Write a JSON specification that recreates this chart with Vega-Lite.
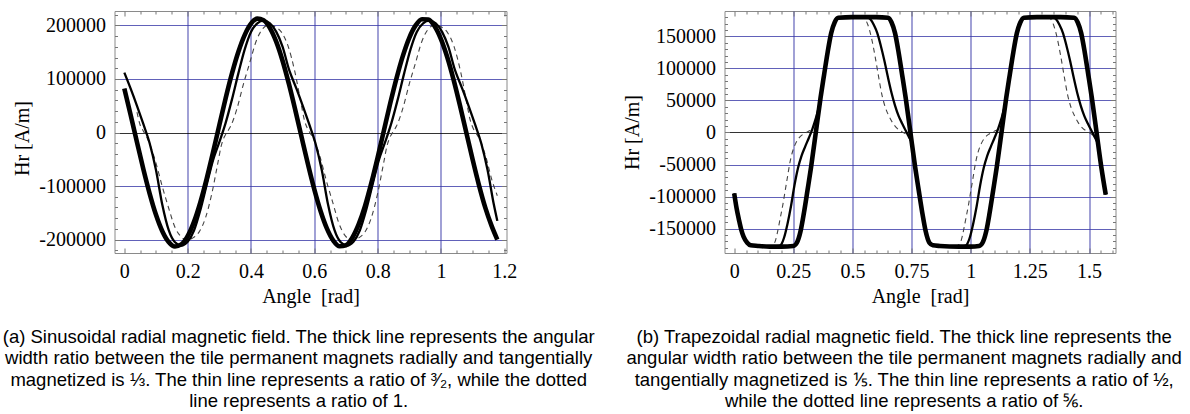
{
  "$schema": "https://vega.github.io/schema/vega-lite/v6.json",
  "padding": {"left": 1.5, "top": 10, "right": 0, "bottom": 0},
  "autosize": {"type": "pad"},
  "background": "white",
  "bounds": "flush",
  "spacing": 218,
  "config": {
    "view": {"stroke": "#8a8a8a", "strokeWidth": 1},
    "axis": {
      "labelFont": "Liberation Serif", "labelFontSize": 20, "labelColor": "#000000",
      "titleFont": "Liberation Serif", "titleFontSize": 20, "titleFontWeight": "normal", "titleColor": "#000000",
      "tickColor": "#777777", "domain": false, "labelFlush": false, "labelOverlap": false, "labelBound": false
    },
    "title": {"font": "Liberation Sans", "fontSize": 18.5, "fontWeight": "normal", "color": "#000000", "lineHeight": 21.3}
  },
  "datasets": {
    "sin": [
      {"curve":"dotted","angle":0.04,"hr":38000},{"curve":"dotted","angle":0.05,"hr":14000},{"curve":"dotted","angle":0.06,"hr":3000},{"curve":"dotted","angle":0.07,"hr":-7500},{"curve":"dotted","angle":0.08,"hr":-21000},{"curve":"dotted","angle":0.1,"hr":-57000},{"curve":"dotted","angle":0.12,"hr":-101000},{"curve":"dotted","angle":0.14,"hr":-141000},{"curve":"dotted","angle":0.16,"hr":-177000},{"curve":"dotted","angle":0.18,"hr":-195000},{"curve":"dotted","angle":0.196,"hr":-201000},{"curve":"dotted","angle":0.216,"hr":-197000},{"curve":"dotted","angle":0.236,"hr":-186000},{"curve":"dotted","angle":0.256,"hr":-160000},{"curve":"dotted","angle":0.276,"hr":-115000},{"curve":"dotted","angle":0.296,"hr":-55000},{"curve":"dotted","angle":0.306,"hr":-25000},{"curve":"dotted","angle":0.316,"hr":-8000},{"curve":"dotted","angle":0.326,"hr":2000},{"curve":"dotted","angle":0.336,"hr":12000},{"curve":"dotted","angle":0.356,"hr":45000},{"curve":"dotted","angle":0.376,"hr":90000},{"curve":"dotted","angle":0.396,"hr":130000},{"curve":"dotted","angle":0.416,"hr":170000},{"curve":"dotted","angle":0.436,"hr":193000},{"curve":"dotted","angle":0.458,"hr":201000},{"curve":"dotted","angle":0.478,"hr":197000},{"curve":"dotted","angle":0.498,"hr":186000},{"curve":"dotted","angle":0.518,"hr":160000},{"curve":"dotted","angle":0.538,"hr":115000},{"curve":"dotted","angle":0.558,"hr":55000},{"curve":"dotted","angle":0.568,"hr":25000},{"curve":"dotted","angle":0.578,"hr":8000},{"curve":"dotted","angle":0.588,"hr":-2000},{"curve":"dotted","angle":0.598,"hr":-12000},{"curve":"dotted","angle":0.618,"hr":-45000},{"curve":"dotted","angle":0.638,"hr":-90000},{"curve":"dotted","angle":0.658,"hr":-130000},{"curve":"dotted","angle":0.678,"hr":-170000},{"curve":"dotted","angle":0.698,"hr":-193000},{"curve":"dotted","angle":0.7196,"hr":-201000},{"curve":"dotted","angle":0.7396,"hr":-197000},{"curve":"dotted","angle":0.7596,"hr":-186000},{"curve":"dotted","angle":0.7796,"hr":-160000},{"curve":"dotted","angle":0.7996,"hr":-115000},{"curve":"dotted","angle":0.8196,"hr":-55000},{"curve":"dotted","angle":0.8296,"hr":-25000},{"curve":"dotted","angle":0.8396,"hr":-8000},{"curve":"dotted","angle":0.8496,"hr":2000},{"curve":"dotted","angle":0.8596,"hr":12000},{"curve":"dotted","angle":0.8796,"hr":45000},{"curve":"dotted","angle":0.8996,"hr":90000},{"curve":"dotted","angle":0.9196,"hr":130000},{"curve":"dotted","angle":0.9396,"hr":170000},{"curve":"dotted","angle":0.9596,"hr":193000},{"curve":"dotted","angle":0.9816,"hr":201000},{"curve":"dotted","angle":1.0016,"hr":197000},{"curve":"dotted","angle":1.0216,"hr":186000},{"curve":"dotted","angle":1.0416,"hr":160000},{"curve":"dotted","angle":1.0616,"hr":115000},{"curve":"dotted","angle":1.0816,"hr":55000},{"curve":"dotted","angle":1.0916,"hr":25000},{"curve":"dotted","angle":1.1016,"hr":8000},{"curve":"dotted","angle":1.1116,"hr":-2000},{"curve":"dotted","angle":1.1216,"hr":-12000},{"curve":"dotted","angle":1.1416,"hr":-45000},{"curve":"dotted","angle":1.1616,"hr":-90000},{"curve":"dotted","angle":1.178,"hr":-118000},
      {"curve":"thin","angle":0,"hr":112000},{"curve":"thin","angle":0.02,"hr":82000},{"curve":"thin","angle":0.04,"hr":50000},{"curve":"thin","angle":0.06,"hr":16000},{"curve":"thin","angle":0.08,"hr":-20000},{"curve":"thin","angle":0.1,"hr":-70000},{"curve":"thin","angle":0.12,"hr":-135000},{"curve":"thin","angle":0.14,"hr":-182000},{"curve":"thin","angle":0.16,"hr":-205000},{"curve":"thin","angle":0.18,"hr":-211000},{"curve":"thin","angle":0.2,"hr":-204000},{"curve":"thin","angle":0.22,"hr":-183000},{"curve":"thin","angle":0.24,"hr":-145000},{"curve":"thin","angle":0.26,"hr":-98000},{"curve":"thin","angle":0.28,"hr":-52000},{"curve":"thin","angle":0.3,"hr":-18000},{"curve":"thin","angle":0.32,"hr":18000},{"curve":"thin","angle":0.34,"hr":62000},{"curve":"thin","angle":0.36,"hr":110000},{"curve":"thin","angle":0.38,"hr":155000},{"curve":"thin","angle":0.4,"hr":188000},{"curve":"thin","angle":0.42,"hr":204000},{"curve":"thin","angle":0.44,"hr":209000},{"curve":"thin","angle":0.46,"hr":204000},{"curve":"thin","angle":0.48,"hr":188000},{"curve":"thin","angle":0.5,"hr":160000},{"curve":"thin","angle":0.52,"hr":118000},
      {"curve":"thin","angle":0.5236,"hr":112000},{"curve":"thin","angle":0.5436,"hr":82000},{"curve":"thin","angle":0.5636,"hr":50000},{"curve":"thin","angle":0.5836,"hr":16000},{"curve":"thin","angle":0.6036,"hr":-20000},{"curve":"thin","angle":0.6236,"hr":-70000},{"curve":"thin","angle":0.6436,"hr":-135000},{"curve":"thin","angle":0.6636,"hr":-182000},{"curve":"thin","angle":0.6836,"hr":-205000},{"curve":"thin","angle":0.7036,"hr":-211000},{"curve":"thin","angle":0.7236,"hr":-204000},{"curve":"thin","angle":0.7436,"hr":-183000},{"curve":"thin","angle":0.7636,"hr":-145000},{"curve":"thin","angle":0.7836,"hr":-98000},{"curve":"thin","angle":0.8036,"hr":-52000},{"curve":"thin","angle":0.8236,"hr":-18000},{"curve":"thin","angle":0.8436,"hr":18000},{"curve":"thin","angle":0.8636,"hr":62000},{"curve":"thin","angle":0.8836,"hr":110000},{"curve":"thin","angle":0.9036,"hr":155000},{"curve":"thin","angle":0.9236,"hr":188000},{"curve":"thin","angle":0.9436,"hr":204000},{"curve":"thin","angle":0.9636,"hr":209000},{"curve":"thin","angle":0.9836,"hr":204000},{"curve":"thin","angle":1.0036,"hr":188000},{"curve":"thin","angle":1.0236,"hr":160000},{"curve":"thin","angle":1.0436,"hr":118000},
      {"curve":"thin","angle":1.0472,"hr":112000},{"curve":"thin","angle":1.0672,"hr":82000},{"curve":"thin","angle":1.0872,"hr":50000},{"curve":"thin","angle":1.1072,"hr":16000},{"curve":"thin","angle":1.1272,"hr":-20000},{"curve":"thin","angle":1.1472,"hr":-70000},{"curve":"thin","angle":1.1672,"hr":-135000},{"curve":"thin","angle":1.178,"hr":-165000},
      {"curve":"thick","angle":0,"hr":82200},{"curve":"thick","angle":0.02,"hr":32900},{"curve":"thick","angle":0.04,"hr":-18100},{"curve":"thick","angle":0.06,"hr":-68100},{"curve":"thick","angle":0.08,"hr":-114000},{"curve":"thick","angle":0.1,"hr":-153700},{"curve":"thick","angle":0.12,"hr":-184300},{"curve":"thick","angle":0.14,"hr":-204500},{"curve":"thick","angle":0.16,"hr":-212800},{"curve":"thick","angle":0.18,"hr":-209000},{"curve":"thick","angle":0.2,"hr":-193500},{"curve":"thick","angle":0.22,"hr":-166700},{"curve":"thick","angle":0.24,"hr":-130300},{"curve":"thick","angle":0.26,"hr":-86300},{"curve":"thick","angle":0.28,"hr":-37400},{"curve":"thick","angle":0.3,"hr":13500},{"curve":"thick","angle":0.32,"hr":63900},{"curve":"thick","angle":0.34,"hr":110300},{"curve":"thick","angle":0.36,"hr":150400},{"curve":"thick","angle":0.38,"hr":182000},{"curve":"thick","angle":0.4,"hr":203300},{"curve":"thick","angle":0.42,"hr":212700},{"curve":"thick","angle":0.44,"hr":209700},{"curve":"thick","angle":0.46,"hr":195100},{"curve":"thick","angle":0.48,"hr":169200},{"curve":"thick","angle":0.5,"hr":133600},{"curve":"thick","angle":0.52,"hr":90300},{"curve":"thick","angle":0.54,"hr":41900},{"curve":"thick","angle":0.56,"hr":-9000},{"curve":"thick","angle":0.58,"hr":-59300},{"curve":"thick","angle":0.6,"hr":-106200},{"curve":"thick","angle":0.62,"hr":-147100},{"curve":"thick","angle":0.64,"hr":-179600},{"curve":"thick","angle":0.66,"hr":-201900},{"curve":"thick","angle":0.68,"hr":-212400},{"curve":"thick","angle":0.7,"hr":-210500},{"curve":"thick","angle":0.72,"hr":-196500},{"curve":"thick","angle":0.74,"hr":-171700},{"curve":"thick","angle":0.76,"hr":-137600},{"curve":"thick","angle":0.78,"hr":-94600},{"curve":"thick","angle":0.8,"hr":-46500},{"curve":"thick","angle":0.82,"hr":4400},{"curve":"thick","angle":0.84,"hr":55000},{"curve":"thick","angle":0.86,"hr":102200},{"curve":"thick","angle":0.88,"hr":143700},{"curve":"thick","angle":0.9,"hr":177000},{"curve":"thick","angle":0.92,"hr":200100},{"curve":"thick","angle":0.94,"hr":211700},{"curve":"thick","angle":0.96,"hr":211200},{"curve":"thick","angle":0.98,"hr":198600},{"curve":"thick","angle":1.0,"hr":174600},{"curve":"thick","angle":1.02,"hr":140600},{"curve":"thick","angle":1.04,"hr":98500},{"curve":"thick","angle":1.06,"hr":50800},{"curve":"thick","angle":1.08,"hr":200},{"curve":"thick","angle":1.1,"hr":-50500},{"curve":"thick","angle":1.12,"hr":-98200},{"curve":"thick","angle":1.14,"hr":-140300},{"curve":"thick","angle":1.16,"hr":-174400},{"curve":"thick","angle":1.178,"hr":-200000}
    ],
    "trap": [
      {"curve":"dotted","angle":0,"hr":-95000},{"curve":"dotted","angle":0.01,"hr":-118000},{"curve":"dotted","angle":0.02,"hr":-136000},{"curve":"dotted","angle":0.03,"hr":-152000},{"curve":"dotted","angle":0.04,"hr":-163000},{"curve":"dotted","angle":0.055,"hr":-172000},{"curve":"dotted","angle":0.07,"hr":-176000},{"curve":"dotted","angle":0.1,"hr":-177000},{"curve":"dotted","angle":0.15,"hr":-177000},{"curve":"dotted","angle":0.165,"hr":-175000},{"curve":"dotted","angle":0.175,"hr":-168000},{"curve":"dotted","angle":0.185,"hr":-152000},{"curve":"dotted","angle":0.195,"hr":-133000},{"curve":"dotted","angle":0.205,"hr":-114000},{"curve":"dotted","angle":0.215,"hr":-92000},{"curve":"dotted","angle":0.225,"hr":-70000},{"curve":"dotted","angle":0.235,"hr":-48000},{"curve":"dotted","angle":0.245,"hr":-32000},{"curve":"dotted","angle":0.26,"hr":-17000},{"curve":"dotted","angle":0.275,"hr":-8000},{"curve":"dotted","angle":0.29,"hr":-3000},{"curve":"dotted","angle":0.305,"hr":0},{"curve":"dotted","angle":0.32,"hr":3000},{"curve":"dotted","angle":0.33,"hr":5000},{"curve":"dotted","angle":0.345,"hr":22000},{"curve":"dotted","angle":0.358,"hr":40000},{"curve":"dotted","angle":0.365,"hr":54000},{"curve":"dotted","angle":0.38,"hr":90000},{"curve":"dotted","angle":0.395,"hr":125000},{"curve":"dotted","angle":0.41,"hr":155000},{"curve":"dotted","angle":0.425,"hr":172000},{"curve":"dotted","angle":0.44,"hr":179000},{"curve":"dotted","angle":0.5,"hr":180000},{"curve":"dotted","angle":0.535,"hr":180000},{"curve":"dotted","angle":0.55,"hr":178000},{"curve":"dotted","angle":0.565,"hr":168000},{"curve":"dotted","angle":0.58,"hr":148000},{"curve":"dotted","angle":0.595,"hr":120000},{"curve":"dotted","angle":0.61,"hr":88000},{"curve":"dotted","angle":0.625,"hr":58000},{"curve":"dotted","angle":0.64,"hr":38000},{"curve":"dotted","angle":0.655,"hr":25000},{"curve":"dotted","angle":0.67,"hr":15000},{"curve":"dotted","angle":0.69,"hr":6000},{"curve":"dotted","angle":0.71,"hr":1000},{"curve":"dotted","angle":0.73,"hr":-4000},{"curve":"dotted","angle":0.745,"hr":-12000},{"curve":"dotted","angle":0.752,"hr":-18000},{"curve":"dotted","angle":0.765,"hr":-54000},{"curve":"dotted","angle":0.78,"hr":-90000},{"curve":"dotted","angle":0.795,"hr":-125000},{"curve":"dotted","angle":0.81,"hr":-155000},{"curve":"dotted","angle":0.825,"hr":-172000},{"curve":"dotted","angle":0.84,"hr":-176000},{"curve":"dotted","angle":0.87,"hr":-177000},{"curve":"dotted","angle":0.935,"hr":-177000},{"curve":"dotted","angle":0.95,"hr":-175000},{"curve":"dotted","angle":0.96,"hr":-168000},{"curve":"dotted","angle":0.97,"hr":-152000},{"curve":"dotted","angle":0.98,"hr":-133000},{"curve":"dotted","angle":0.99,"hr":-114000},{"curve":"dotted","angle":1.0,"hr":-92000},{"curve":"dotted","angle":1.01,"hr":-70000},{"curve":"dotted","angle":1.02,"hr":-48000},{"curve":"dotted","angle":1.03,"hr":-32000},{"curve":"dotted","angle":1.045,"hr":-17000},{"curve":"dotted","angle":1.06,"hr":-8000},{"curve":"dotted","angle":1.075,"hr":-3000},{"curve":"dotted","angle":1.09,"hr":0},{"curve":"dotted","angle":1.105,"hr":3000},{"curve":"dotted","angle":1.115,"hr":5000},{"curve":"dotted","angle":1.13,"hr":22000},{"curve":"dotted","angle":1.143,"hr":40000},{"curve":"dotted","angle":1.15,"hr":54000},{"curve":"dotted","angle":1.165,"hr":90000},{"curve":"dotted","angle":1.18,"hr":125000},{"curve":"dotted","angle":1.195,"hr":155000},{"curve":"dotted","angle":1.21,"hr":172000},{"curve":"dotted","angle":1.225,"hr":179000},{"curve":"dotted","angle":1.28,"hr":180000},{"curve":"dotted","angle":1.32,"hr":180000},{"curve":"dotted","angle":1.335,"hr":178000},{"curve":"dotted","angle":1.35,"hr":168000},{"curve":"dotted","angle":1.365,"hr":148000},{"curve":"dotted","angle":1.38,"hr":120000},{"curve":"dotted","angle":1.395,"hr":88000},{"curve":"dotted","angle":1.41,"hr":58000},{"curve":"dotted","angle":1.425,"hr":38000},{"curve":"dotted","angle":1.44,"hr":25000},{"curve":"dotted","angle":1.455,"hr":15000},{"curve":"dotted","angle":1.475,"hr":6000},{"curve":"dotted","angle":1.495,"hr":1000},{"curve":"dotted","angle":1.515,"hr":-4000},{"curve":"dotted","angle":1.53,"hr":-12000},{"curve":"dotted","angle":1.537,"hr":-18000},{"curve":"dotted","angle":1.552,"hr":-54000},{"curve":"dotted","angle":1.5708,"hr":-97000},
      {"curve":"thin","angle":0,"hr":-95000},{"curve":"thin","angle":0.01,"hr":-118000},{"curve":"thin","angle":0.02,"hr":-136000},{"curve":"thin","angle":0.03,"hr":-152000},{"curve":"thin","angle":0.04,"hr":-163000},{"curve":"thin","angle":0.055,"hr":-172000},{"curve":"thin","angle":0.07,"hr":-176000},{"curve":"thin","angle":0.1,"hr":-177000},{"curve":"thin","angle":0.15,"hr":-178000},{"curve":"thin","angle":0.19,"hr":-177000},{"curve":"thin","angle":0.2,"hr":-174000},{"curve":"thin","angle":0.21,"hr":-165000},{"curve":"thin","angle":0.225,"hr":-143000},{"curve":"thin","angle":0.24,"hr":-115000},{"curve":"thin","angle":0.255,"hr":-82000},{"curve":"thin","angle":0.27,"hr":-55000},{"curve":"thin","angle":0.285,"hr":-36000},{"curve":"thin","angle":0.3,"hr":-22000},{"curve":"thin","angle":0.315,"hr":-9000},{"curve":"thin","angle":0.33,"hr":5000},{"curve":"thin","angle":0.345,"hr":22000},{"curve":"thin","angle":0.358,"hr":40000},{"curve":"thin","angle":0.365,"hr":54000},{"curve":"thin","angle":0.38,"hr":90000},{"curve":"thin","angle":0.395,"hr":125000},{"curve":"thin","angle":0.41,"hr":155000},{"curve":"thin","angle":0.425,"hr":172000},{"curve":"thin","angle":0.44,"hr":179000},{"curve":"thin","angle":0.5,"hr":180000},{"curve":"thin","angle":0.56,"hr":180000},{"curve":"thin","angle":0.575,"hr":177000},{"curve":"thin","angle":0.59,"hr":168000},{"curve":"thin","angle":0.605,"hr":155000},{"curve":"thin","angle":0.62,"hr":135000},{"curve":"thin","angle":0.635,"hr":112000},{"curve":"thin","angle":0.65,"hr":86000},{"curve":"thin","angle":0.665,"hr":62000},{"curve":"thin","angle":0.68,"hr":42000},{"curve":"thin","angle":0.695,"hr":26000},{"curve":"thin","angle":0.71,"hr":14000},{"curve":"thin","angle":0.725,"hr":3000},{"curve":"thin","angle":0.74,"hr":-8000},{"curve":"thin","angle":0.752,"hr":-18000},{"curve":"thin","angle":0.765,"hr":-54000},{"curve":"thin","angle":0.78,"hr":-90000},{"curve":"thin","angle":0.795,"hr":-125000},{"curve":"thin","angle":0.81,"hr":-155000},{"curve":"thin","angle":0.825,"hr":-172000},{"curve":"thin","angle":0.84,"hr":-176000},{"curve":"thin","angle":0.87,"hr":-177000},{"curve":"thin","angle":0.95,"hr":-178000},{"curve":"thin","angle":0.975,"hr":-177000},{"curve":"thin","angle":0.985,"hr":-174000},{"curve":"thin","angle":0.995,"hr":-165000},{"curve":"thin","angle":1.01,"hr":-143000},{"curve":"thin","angle":1.025,"hr":-115000},{"curve":"thin","angle":1.04,"hr":-82000},{"curve":"thin","angle":1.055,"hr":-55000},{"curve":"thin","angle":1.07,"hr":-36000},{"curve":"thin","angle":1.085,"hr":-22000},{"curve":"thin","angle":1.1,"hr":-9000},{"curve":"thin","angle":1.115,"hr":5000},{"curve":"thin","angle":1.13,"hr":22000},{"curve":"thin","angle":1.143,"hr":40000},{"curve":"thin","angle":1.15,"hr":54000},{"curve":"thin","angle":1.165,"hr":90000},{"curve":"thin","angle":1.18,"hr":125000},{"curve":"thin","angle":1.195,"hr":155000},{"curve":"thin","angle":1.21,"hr":172000},{"curve":"thin","angle":1.225,"hr":179000},{"curve":"thin","angle":1.28,"hr":180000},{"curve":"thin","angle":1.345,"hr":180000},{"curve":"thin","angle":1.36,"hr":177000},{"curve":"thin","angle":1.375,"hr":168000},{"curve":"thin","angle":1.39,"hr":155000},{"curve":"thin","angle":1.405,"hr":135000},{"curve":"thin","angle":1.42,"hr":112000},{"curve":"thin","angle":1.435,"hr":86000},{"curve":"thin","angle":1.45,"hr":62000},{"curve":"thin","angle":1.465,"hr":42000},{"curve":"thin","angle":1.48,"hr":26000},{"curve":"thin","angle":1.495,"hr":14000},{"curve":"thin","angle":1.51,"hr":3000},{"curve":"thin","angle":1.525,"hr":-8000},{"curve":"thin","angle":1.537,"hr":-18000},{"curve":"thin","angle":1.552,"hr":-54000},{"curve":"thin","angle":1.5708,"hr":-97000},
      {"curve":"thick","angle":0,"hr":-95000},{"curve":"thick","angle":0.01,"hr":-118000},{"curve":"thick","angle":0.02,"hr":-136000},{"curve":"thick","angle":0.03,"hr":-152000},{"curve":"thick","angle":0.04,"hr":-163000},{"curve":"thick","angle":0.055,"hr":-172000},{"curve":"thick","angle":0.07,"hr":-176000},{"curve":"thick","angle":0.1,"hr":-177000},{"curve":"thick","angle":0.15,"hr":-178000},{"curve":"thick","angle":0.2,"hr":-178000},{"curve":"thick","angle":0.25,"hr":-177000},{"curve":"thick","angle":0.265,"hr":-172000},{"curve":"thick","angle":0.28,"hr":-155000},{"curve":"thick","angle":0.295,"hr":-125000},{"curve":"thick","angle":0.31,"hr":-90000},{"curve":"thick","angle":0.325,"hr":-54000},{"curve":"thick","angle":0.345,"hr":0},{"curve":"thick","angle":0.365,"hr":54000},{"curve":"thick","angle":0.38,"hr":90000},{"curve":"thick","angle":0.395,"hr":125000},{"curve":"thick","angle":0.41,"hr":155000},{"curve":"thick","angle":0.425,"hr":172000},{"curve":"thick","angle":0.44,"hr":179000},{"curve":"thick","angle":0.5,"hr":180000},{"curve":"thick","angle":0.55,"hr":180000},{"curve":"thick","angle":0.6,"hr":180000},{"curve":"thick","angle":0.65,"hr":179000},{"curve":"thick","angle":0.665,"hr":172000},{"curve":"thick","angle":0.68,"hr":155000},{"curve":"thick","angle":0.695,"hr":125000},{"curve":"thick","angle":0.71,"hr":90000},{"curve":"thick","angle":0.725,"hr":54000},{"curve":"thick","angle":0.745,"hr":0},{"curve":"thick","angle":0.765,"hr":-54000},{"curve":"thick","angle":0.78,"hr":-90000},{"curve":"thick","angle":0.795,"hr":-125000},{"curve":"thick","angle":0.81,"hr":-155000},{"curve":"thick","angle":0.825,"hr":-172000},{"curve":"thick","angle":0.84,"hr":-176000},{"curve":"thick","angle":0.87,"hr":-177000},{"curve":"thick","angle":0.95,"hr":-178000},{"curve":"thick","angle":1.0,"hr":-178000},{"curve":"thick","angle":1.035,"hr":-177000},{"curve":"thick","angle":1.05,"hr":-172000},{"curve":"thick","angle":1.065,"hr":-155000},{"curve":"thick","angle":1.08,"hr":-125000},{"curve":"thick","angle":1.095,"hr":-90000},{"curve":"thick","angle":1.11,"hr":-54000},{"curve":"thick","angle":1.13,"hr":0},{"curve":"thick","angle":1.15,"hr":54000},{"curve":"thick","angle":1.165,"hr":90000},{"curve":"thick","angle":1.18,"hr":125000},{"curve":"thick","angle":1.195,"hr":155000},{"curve":"thick","angle":1.21,"hr":172000},{"curve":"thick","angle":1.225,"hr":179000},{"curve":"thick","angle":1.28,"hr":180000},{"curve":"thick","angle":1.33,"hr":180000},{"curve":"thick","angle":1.38,"hr":180000},{"curve":"thick","angle":1.437,"hr":179000},{"curve":"thick","angle":1.452,"hr":172000},{"curve":"thick","angle":1.467,"hr":155000},{"curve":"thick","angle":1.482,"hr":125000},{"curve":"thick","angle":1.497,"hr":90000},{"curve":"thick","angle":1.512,"hr":54000},{"curve":"thick","angle":1.532,"hr":0},{"curve":"thick","angle":1.552,"hr":-54000},{"curve":"thick","angle":1.5708,"hr":-97000}
    ]
  },
  "hconcat": [
    {
      "width": 392, "height": 242,
      "data": {"name": "sin"},
      "title": {
        "text": ["(a) Sinusoidal radial magnetic field. The thick line represents the angular", "width ratio between the tile permanent magnets radially and tangentially", "magnetized is ⅓. The thin line represents a ratio of ³⁄₂, while the dotted", "line represents a ratio of 1."],
        "orient": "bottom", "anchor": "middle", "frame": "group", "dx": -11.8, "offset": 22
      },
      "resolve": {"axis": {"x": "independent", "y": "independent"}},
      "layer": [
        {
          "transform": [{"filter": "datum.curve === 'dotted'"}],
          "mark": {"type": "line", "interpolate": "monotone", "color": "#444444", "strokeWidth": 1.1, "strokeDash": [5, 4]},
          "encoding": {
            "x": {"field": "angle", "type": "quantitative", "scale": {"domain": [-0.031, 1.207], "nice": false, "zero": false},
              "axis": {"orient": "bottom", "values": [0, 0.2, 0.4, 0.6, 0.8, 1, 1.2], "labelExpr": "toString(datum.value)", "title": "Angle\u00a0 [rad]", "ticks": false, "grid": true, "gridColor": "#3a3aa8", "gridWidth": 1.2, "gridOpacity": {"condition": {"test": "datum.value === 0 || datum.value > 1.19", "value": 0}, "value": 0.8}, "labelPadding": 8, "titlePadding": 5}},
            "y": {"field": "hr", "type": "quantitative", "scale": {"domain": [-225000, 227000], "nice": false, "zero": false},
              "axis": {"orient": "left", "values": [-200000, -100000, 0, 100000, 200000], "labelExpr": "toString(datum.value)", "title": "Hr [A/m]", "titleY": 127, "ticks": false, "grid": true, "gridColor": {"condition": {"test": "datum.value === 0", "value": "#000000"}, "value": "#3a3aa8"}, "gridWidth": 1.2, "gridOpacity": 0.8, "labelPadding": 9, "titlePadding": 6}}
          }
        },
        {
          "transform": [{"filter": "datum.curve === 'thin'"}],
          "mark": {"type": "line", "interpolate": "monotone", "color": "#000000", "strokeWidth": 2.3, "strokeJoin": "round"},
          "encoding": {
            "x": {"field": "angle", "type": "quantitative", "scale": {"domain": [-0.031, 1.207], "nice": false, "zero": false}, "axis": null},
            "y": {"field": "hr", "type": "quantitative", "scale": {"domain": [-225000, 227000], "nice": false, "zero": false}, "axis": null}
          }
        },
        {
          "transform": [{"filter": "datum.curve === 'thick'"}],
          "mark": {"type": "line", "interpolate": "monotone", "color": "#000000", "strokeWidth": 4.6, "strokeJoin": "round"},
          "encoding": {
            "x": {"field": "angle", "type": "quantitative", "scale": {"domain": [-0.031, 1.207], "nice": false, "zero": false}, "axis": null},
            "y": {"field": "hr", "type": "quantitative", "scale": {"domain": [-225000, 227000], "nice": false, "zero": false}, "axis": null}
          }
        },
        {
          "mark": {"type": "point", "opacity": 0},
          "encoding": {
            "x": {"field": "angle", "type": "quantitative", "scale": {"domain": [-0.031, 1.207], "nice": false, "zero": false},
              "axis": {"orient": "bottom", "values": [0, 0.2, 0.4, 0.6, 0.8, 1, 1.2], "labels": false, "title": null, "grid": false, "ticks": true, "tickSize": -5}},
            "y": {"field": "hr", "type": "quantitative", "scale": {"domain": [-225000, 227000], "nice": false, "zero": false},
              "axis": {"orient": "left", "values": [-200000, -100000, 0, 100000, 200000], "labels": false, "title": null, "grid": false, "ticks": true, "tickSize": -5}}
          }
        },
        {
          "mark": {"type": "point", "opacity": 0},
          "encoding": {
            "x": {"field": "angle", "type": "quantitative", "scale": {"domain": [-0.031, 1.207], "nice": false, "zero": false},
              "axis": {"orient": "top", "values": [0, 0.2, 0.4, 0.6, 0.8, 1, 1.2], "labels": false, "title": null, "grid": false, "ticks": true, "tickSize": -5}},
            "y": {"field": "hr", "type": "quantitative", "scale": {"domain": [-225000, 227000], "nice": false, "zero": false},
              "axis": {"orient": "right", "values": [-200000, -100000, 0, 100000, 200000], "labels": false, "title": null, "grid": false, "ticks": true, "tickSize": -5}}
          }
        },
        {
          "mark": {"type": "point", "opacity": 0},
          "encoding": {
            "x": {"field": "angle", "type": "quantitative", "scale": {"domain": [-0.031, 1.207], "nice": false, "zero": false},
              "axis": {"orient": "bottom", "values": [0.05, 0.1, 0.15, 0.25, 0.3, 0.35, 0.45, 0.5, 0.55, 0.65, 0.7, 0.75, 0.85, 0.9, 0.95, 1.05, 1.1, 1.15], "labels": false, "title": null, "grid": false, "ticks": true, "tickSize": -3}},
            "y": {"field": "hr", "type": "quantitative", "scale": {"domain": [-225000, 227000], "nice": false, "zero": false},
              "axis": {"orient": "left", "values": [-220000, -180000, -160000, -140000, -120000, -80000, -60000, -40000, -20000, 20000, 40000, 60000, 80000, 120000, 140000, 160000, 180000, 220000], "labels": false, "title": null, "grid": false, "ticks": true, "tickSize": -3}}
          }
        },
        {
          "mark": {"type": "point", "opacity": 0},
          "encoding": {
            "x": {"field": "angle", "type": "quantitative", "scale": {"domain": [-0.031, 1.207], "nice": false, "zero": false},
              "axis": {"orient": "top", "values": [0.05, 0.1, 0.15, 0.25, 0.3, 0.35, 0.45, 0.5, 0.55, 0.65, 0.7, 0.75, 0.85, 0.9, 0.95, 1.05, 1.1, 1.15], "labels": false, "title": null, "grid": false, "ticks": true, "tickSize": -3}},
            "y": {"field": "hr", "type": "quantitative", "scale": {"domain": [-225000, 227000], "nice": false, "zero": false},
              "axis": {"orient": "right", "values": [-220000, -180000, -160000, -140000, -120000, -80000, -60000, -40000, -20000, 20000, 40000, 60000, 80000, 120000, 140000, 160000, 180000, 220000], "labels": false, "title": null, "grid": false, "ticks": true, "tickSize": -3}}
          }
        }
      ]
    },
    {
      "width": 391, "height": 242,
      "data": {"name": "trap"},
      "title": {
        "text": ["(b) Trapezoidal radial magnetic field. The thick line represents the", "angular width ratio between the tile permanent magnets radially and", "tangentially magnetized is ⅕. The thin line represents a ratio of ½,", "while the dotted line represents a ratio of ⅚."],
        "orient": "bottom", "anchor": "middle", "frame": "group", "dx": -15.8, "offset": 22
      },
      "resolve": {"axis": {"x": "independent", "y": "independent"}},
      "layer": [
        {
          "transform": [{"filter": "datum.curve === 'dotted'"}],
          "mark": {"type": "line", "interpolate": "monotone", "color": "#444444", "strokeWidth": 1.1, "strokeDash": [5, 4]},
          "encoding": {
            "x": {"field": "angle", "type": "quantitative", "scale": {"domain": [-0.041, 1.612], "nice": false, "zero": false},
              "axis": {"orient": "bottom", "values": [0, 0.25, 0.5, 0.75, 1, 1.25, 1.5], "labelExpr": "toString(datum.value)", "title": "Angle\u00a0 [rad]", "ticks": false, "grid": true, "gridColor": "#3a3aa8", "gridWidth": 1.2, "gridOpacity": {"condition": {"test": "datum.value === 0", "value": 0}, "value": 0.8}, "labelPadding": 8, "titlePadding": 5}},
            "y": {"field": "hr", "type": "quantitative", "scale": {"domain": [-188000, 189500], "nice": false, "zero": false},
              "axis": {"orient": "left", "values": [-150000, -100000, -50000, 0, 50000, 100000, 150000], "labelExpr": "toString(datum.value)", "title": "Hr [A/m]", "ticks": false, "grid": true, "gridColor": {"condition": {"test": "datum.value === 0", "value": "#000000"}, "value": "#3a3aa8"}, "gridWidth": 1.2, "gridOpacity": 0.8, "labelPadding": 9, "titlePadding": 6}}
          }
        },
        {
          "transform": [{"filter": "datum.curve === 'thin'"}],
          "mark": {"type": "line", "interpolate": "monotone", "color": "#000000", "strokeWidth": 2.3, "strokeJoin": "round"},
          "encoding": {
            "x": {"field": "angle", "type": "quantitative", "scale": {"domain": [-0.041, 1.612], "nice": false, "zero": false}, "axis": null},
            "y": {"field": "hr", "type": "quantitative", "scale": {"domain": [-188000, 189500], "nice": false, "zero": false}, "axis": null}
          }
        },
        {
          "transform": [{"filter": "datum.curve === 'thick'"}],
          "mark": {"type": "line", "interpolate": "monotone", "color": "#000000", "strokeWidth": 4.6, "strokeJoin": "round"},
          "encoding": {
            "x": {"field": "angle", "type": "quantitative", "scale": {"domain": [-0.041, 1.612], "nice": false, "zero": false}, "axis": null},
            "y": {"field": "hr", "type": "quantitative", "scale": {"domain": [-188000, 189500], "nice": false, "zero": false}, "axis": null}
          }
        },
        {
          "mark": {"type": "point", "opacity": 0},
          "encoding": {
            "x": {"field": "angle", "type": "quantitative", "scale": {"domain": [-0.041, 1.612], "nice": false, "zero": false},
              "axis": {"orient": "bottom", "values": [0, 0.25, 0.5, 0.75, 1, 1.25, 1.5], "labels": false, "title": null, "grid": false, "ticks": true, "tickSize": -5}},
            "y": {"field": "hr", "type": "quantitative", "scale": {"domain": [-188000, 189500], "nice": false, "zero": false},
              "axis": {"orient": "left", "values": [-150000, -100000, -50000, 0, 50000, 100000, 150000], "labels": false, "title": null, "grid": false, "ticks": true, "tickSize": -5}}
          }
        },
        {
          "mark": {"type": "point", "opacity": 0},
          "encoding": {
            "x": {"field": "angle", "type": "quantitative", "scale": {"domain": [-0.041, 1.612], "nice": false, "zero": false},
              "axis": {"orient": "top", "values": [0, 0.25, 0.5, 0.75, 1, 1.25, 1.5], "labels": false, "title": null, "grid": false, "ticks": true, "tickSize": -5}},
            "y": {"field": "hr", "type": "quantitative", "scale": {"domain": [-188000, 189500], "nice": false, "zero": false},
              "axis": {"orient": "right", "values": [-150000, -100000, -50000, 0, 50000, 100000, 150000], "labels": false, "title": null, "grid": false, "ticks": true, "tickSize": -5}}
          }
        },
        {
          "mark": {"type": "point", "opacity": 0},
          "encoding": {
            "x": {"field": "angle", "type": "quantitative", "scale": {"domain": [-0.041, 1.612], "nice": false, "zero": false},
              "axis": {"orient": "bottom", "values": [0.05, 0.1, 0.15, 0.2, 0.3, 0.35, 0.4, 0.45, 0.55, 0.6, 0.65, 0.7, 0.8, 0.85, 0.9, 0.95, 1.05, 1.1, 1.15, 1.2, 1.3, 1.35, 1.4, 1.45, 1.55, 1.6], "labels": false, "title": null, "grid": false, "ticks": true, "tickSize": -3}},
            "y": {"field": "hr", "type": "quantitative", "scale": {"domain": [-188000, 189500], "nice": false, "zero": false},
              "axis": {"orient": "left", "values": [-180000, -170000, -160000, -140000, -130000, -120000, -110000, -90000, -80000, -70000, -60000, -40000, -30000, -20000, -10000, 10000, 20000, 30000, 40000, 60000, 70000, 80000, 90000, 110000, 120000, 130000, 140000, 160000, 170000, 180000], "labels": false, "title": null, "grid": false, "ticks": true, "tickSize": -3}}
          }
        },
        {
          "mark": {"type": "point", "opacity": 0},
          "encoding": {
            "x": {"field": "angle", "type": "quantitative", "scale": {"domain": [-0.041, 1.612], "nice": false, "zero": false},
              "axis": {"orient": "top", "values": [0.05, 0.1, 0.15, 0.2, 0.3, 0.35, 0.4, 0.45, 0.55, 0.6, 0.65, 0.7, 0.8, 0.85, 0.9, 0.95, 1.05, 1.1, 1.15, 1.2, 1.3, 1.35, 1.4, 1.45, 1.55, 1.6], "labels": false, "title": null, "grid": false, "ticks": true, "tickSize": -3}},
            "y": {"field": "hr", "type": "quantitative", "scale": {"domain": [-188000, 189500], "nice": false, "zero": false},
              "axis": {"orient": "right", "values": [-180000, -170000, -160000, -140000, -130000, -120000, -110000, -90000, -80000, -70000, -60000, -40000, -30000, -20000, -10000, 10000, 20000, 30000, 40000, 60000, 70000, 80000, 90000, 110000, 120000, 130000, 140000, 160000, 170000, 180000], "labels": false, "title": null, "grid": false, "ticks": true, "tickSize": -3}}
          }
        }
      ]
    }
  ]
}
